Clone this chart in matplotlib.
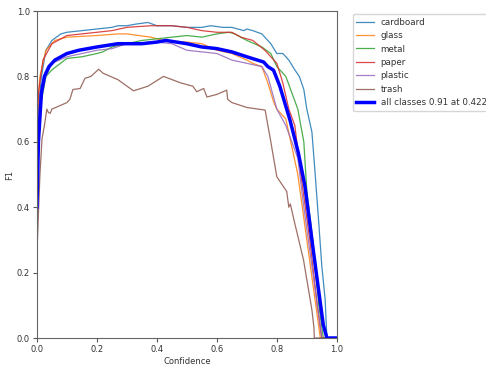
import matplotlib.pyplot as plt

# confidence / F1 points
cardboard_x = [0.0, 0.005, 0.015, 0.03, 0.05, 0.08, 0.1, 0.15, 0.2, 0.25, 0.27, 0.3, 0.33, 0.37, 0.4, 0.45, 0.5, 0.55, 0.58, 0.62, 0.65, 0.69, 0.7, 0.72, 0.75, 0.78, 0.8, 0.82, 0.84, 0.86, 0.875, 0.89, 0.9, 0.917, 0.928, 0.94, 0.95, 0.961, 0.967, 1.0]
cardboard_y = [0.45, 0.7, 0.8, 0.88, 0.91, 0.93, 0.935, 0.94, 0.945, 0.95, 0.955, 0.955, 0.96, 0.965, 0.955, 0.955, 0.95, 0.95, 0.955, 0.95, 0.95, 0.94, 0.945, 0.94, 0.93, 0.90, 0.87, 0.87, 0.85, 0.82, 0.80, 0.76, 0.70, 0.63, 0.50, 0.35, 0.22, 0.12, 0.0, 0.0]

glass_x = [0.0, 0.01, 0.03, 0.06, 0.1, 0.2, 0.27, 0.3, 0.38, 0.42, 0.5, 0.55, 0.6, 0.65, 0.7, 0.72, 0.75, 0.77, 0.79, 0.8, 0.83, 0.87, 0.9, 0.93, 0.945, 1.0]
glass_y = [0.68, 0.8, 0.88, 0.91, 0.92, 0.925, 0.93, 0.93, 0.92, 0.91, 0.905, 0.9, 0.88, 0.87, 0.85, 0.84, 0.83, 0.78, 0.72, 0.70, 0.67, 0.5, 0.3, 0.1, 0.0, 0.0]

metal_x = [0.0, 0.01, 0.03, 0.05, 0.1, 0.15, 0.2, 0.22, 0.25, 0.3, 0.35, 0.4, 0.45, 0.5, 0.55, 0.6, 0.64, 0.66, 0.7, 0.75, 0.78, 0.8, 0.83, 0.85, 0.87, 0.89, 0.9, 0.92, 0.94, 0.955, 1.0]
metal_y = [0.5, 0.7, 0.8, 0.82, 0.855, 0.86, 0.87, 0.875, 0.89, 0.90, 0.91, 0.915, 0.92, 0.925, 0.92, 0.93, 0.935, 0.93, 0.91, 0.89, 0.87, 0.83, 0.80, 0.75, 0.70, 0.60, 0.45, 0.3, 0.1, 0.0, 0.0]

paper_x = [0.0, 0.005, 0.02, 0.05, 0.1, 0.15, 0.25, 0.3, 0.38, 0.45, 0.5, 0.55, 0.6, 0.65, 0.68, 0.72, 0.76, 0.8, 0.82, 0.84, 0.86, 0.88, 0.91, 0.935, 0.95, 1.0]
paper_y = [0.6, 0.75, 0.85, 0.9, 0.925, 0.93, 0.94, 0.95, 0.955, 0.955, 0.95, 0.94, 0.935, 0.935, 0.92, 0.91, 0.88, 0.84, 0.78, 0.70, 0.65, 0.5, 0.3, 0.1, 0.0, 0.0]

plastic_x = [0.0, 0.01, 0.03, 0.05, 0.1, 0.15, 0.2, 0.25, 0.3, 0.4, 0.45, 0.5, 0.55, 0.6, 0.65, 0.7, 0.75, 0.77, 0.8, 0.83, 0.85, 0.87, 0.89, 0.92, 0.95, 1.0]
plastic_y = [0.6, 0.72, 0.8, 0.84, 0.86, 0.87, 0.88, 0.885, 0.9, 0.905, 0.9, 0.88, 0.875, 0.87, 0.85, 0.84, 0.83, 0.80, 0.70, 0.65, 0.6, 0.55, 0.4, 0.2, 0.0, 0.0]

trash_x = [0.0, 0.01, 0.017, 0.025, 0.033, 0.038, 0.044, 0.05, 0.1, 0.11, 0.12, 0.144, 0.16, 0.18, 0.206, 0.22, 0.27, 0.322, 0.37, 0.422, 0.48, 0.52, 0.533, 0.556, 0.567, 0.6, 0.633, 0.636, 0.65, 0.7, 0.761, 0.78, 0.8, 0.833, 0.84, 0.845, 0.86, 0.889, 0.917, 0.924, 0.925, 1.0]
trash_y = [0.26, 0.5, 0.61, 0.65, 0.70, 0.69, 0.687, 0.70, 0.72, 0.73, 0.76, 0.763, 0.794, 0.80, 0.822, 0.81, 0.79, 0.756, 0.77, 0.80, 0.78, 0.77, 0.753, 0.763, 0.737, 0.745, 0.758, 0.73, 0.72, 0.705, 0.697, 0.6, 0.493, 0.448, 0.40, 0.41, 0.35, 0.239, 0.086, 0.03, 0.0, 0.0]

all_x = [0.0, 0.005, 0.015, 0.025, 0.04, 0.06, 0.1, 0.14, 0.2, 0.27, 0.35, 0.4, 0.43, 0.5, 0.55, 0.6, 0.65, 0.7, 0.756, 0.77, 0.789, 0.81, 0.844, 0.872, 0.894, 0.917, 0.939, 0.955, 0.967, 1.0]
all_y = [0.4, 0.6, 0.75, 0.8, 0.83, 0.85, 0.87, 0.88, 0.89, 0.9, 0.9, 0.905, 0.91, 0.9, 0.89, 0.885, 0.875, 0.86, 0.844, 0.83, 0.819, 0.77, 0.666, 0.565, 0.463, 0.30, 0.148, 0.04, 0.0, 0.0]

names = ['cardboard', 'glass', 'metal', 'paper', 'plastic', 'trash']
xs = [cardboard_x, glass_x, metal_x, paper_x, plastic_x, trash_x]
ys = [cardboard_y, glass_y, metal_y, paper_y, plastic_y, trash_y]

plt.rcParams['font.size'] = 6
plt.rcParams['text.color'] = '#333333'
plt.rcParams['xtick.color'] = '#555555'
plt.rcParams['ytick.color'] = '#555555'
plt.rcParams['xtick.labelcolor'] = '#333333'
plt.rcParams['ytick.labelcolor'] = '#333333'
plt.rcParams['axes.labelcolor'] = '#333333'
fig = plt.figure(figsize=(4.86, 3.67), dpi=100)
ax = fig.add_axes([0.076, 0.079, 0.617, 0.891])

for name, x, y in zip(names, xs, ys):
    ax.plot(x, y, linewidth=0.9, alpha=0.85, label=name)
ax.plot(all_x, all_y, linewidth=2.5, color='blue', label='all classes 0.91 at 0.422')

ax.set_xlim(0, 1)
ax.set_ylim(0, 1)
ax.set_xlabel('Confidence', labelpad=2)
ax.set_ylabel('F1', labelpad=2)
ax.tick_params(length=3, pad=2)
for s in ax.spines.values():
    s.set_color('#666666')
ax.legend(bbox_to_anchor=(1.053, 0.99), loc='upper left', fontsize=6.3,
          borderaxespad=0)

plt.savefig('out.png', dpi=100)
